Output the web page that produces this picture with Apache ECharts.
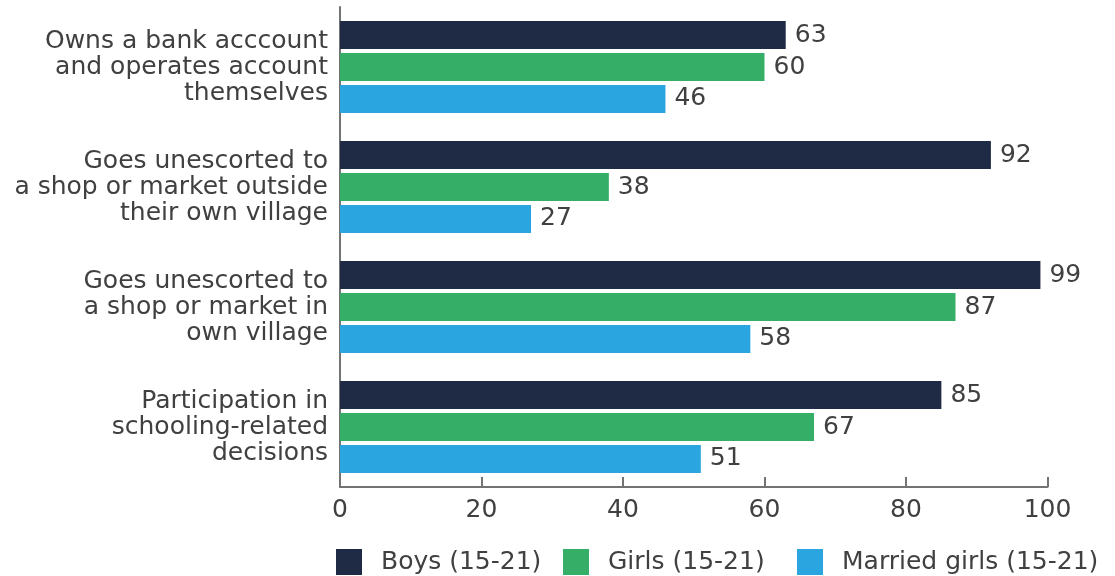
<!DOCTYPE html>
<html>
<head>
<meta charset="utf-8">
<script src="https://cdn.jsdelivr.net/npm/echarts@6/dist/echarts.min.js"></script>
<style>
  html, body { margin: 0; padding: 0; background: #fff; }
  #chart { width: 1115px; height: 576px; }
</style>
</head>
<body>
<div id="chart"></div>
<script>
// Indicator labels, top to bottom
const categories = [
  'Owns a bank acccount\nand operates account\nthemselves',
  'Goes unescorted to\na shop or market outside\ntheir own village',
  'Goes unescorted to\na shop or market in\nown village',
  'Participation in\nschooling-related\ndecisions'
];
const seriesNames = ['Boys (15-21)', 'Girls (15-21)', 'Married girls (15-21)'];
const boys = [63, 92, 99, 85];
const girls = [60, 38, 87, 67];
const marriedGirls = [46, 27, 58, 51];
const xTicks = [0, 20, 40, 60, 80, 100];

const colors = ['#1f2b45', '#35ae67', '#2aa5df'];
const textColor = '#404040';
const axisColor = '#737373';
const fontFamily = '"DejaVu Sans", sans-serif';
const fontSize = 25;
// left edge of each legend entry
const legendLefts = [336, 563, 797];

const chart = echarts.init(document.getElementById('chart'));

function bar(name, data, color) {
  return {
    name: name,
    type: 'bar',
    data: data,
    barWidth: 28,
    barGap: '14%',
    itemStyle: { color: color },
    label: {
      show: true,
      position: 'right',
      distance: 9,
      color: textColor,
      fontSize: fontSize,
      fontFamily: fontFamily
    }
  };
}

function legendEntry(name, left) {
  return {
    data: [name],
    left: left,
    top: 549,
    padding: 0,
    icon: 'rect',
    itemWidth: 26,
    itemHeight: 26,
    selectedMode: false,
    textStyle: { color: textColor, fontSize: fontSize, padding: [0, 0, 0, 14], fontFamily: fontFamily }
  };
}

chart.setOption({
  animation: false,
  textStyle: { fontFamily: fontFamily },
  grid: { left: 340, right: 67.5, top: 7, bottom: 89, containLabel: false },
  xAxis: {
    type: 'value',
    min: xTicks[0],
    max: xTicks[xTicks.length - 1],
    interval: 20,
    axisLine: { show: true, lineStyle: { color: axisColor, width: 2 } },
    axisTick: { show: true, inside: true, length: 10, lineStyle: { color: axisColor, width: 2 } },
    splitLine: { show: false },
    axisLabel: { color: textColor, fontSize: fontSize, margin: 11, fontFamily: fontFamily }
  },
  yAxis: {
    type: 'category',
    inverse: true,
    data: categories,
    axisLine: { show: true, lineStyle: { color: axisColor, width: 2 } },
    axisTick: { show: false },
    axisLabel: {
      color: textColor,
      fontSize: fontSize,
      lineHeight: 26,
      margin: 12,
      align: 'right',
      fontFamily: fontFamily
    }
  },
  legend: seriesNames.map((n, i) => legendEntry(n, legendLefts[i])),
  series: [
    bar(seriesNames[0], boys, colors[0]),
    bar(seriesNames[1], girls, colors[1]),
    bar(seriesNames[2], marriedGirls, colors[2])
  ]
});
</script>
</body>
</html>
